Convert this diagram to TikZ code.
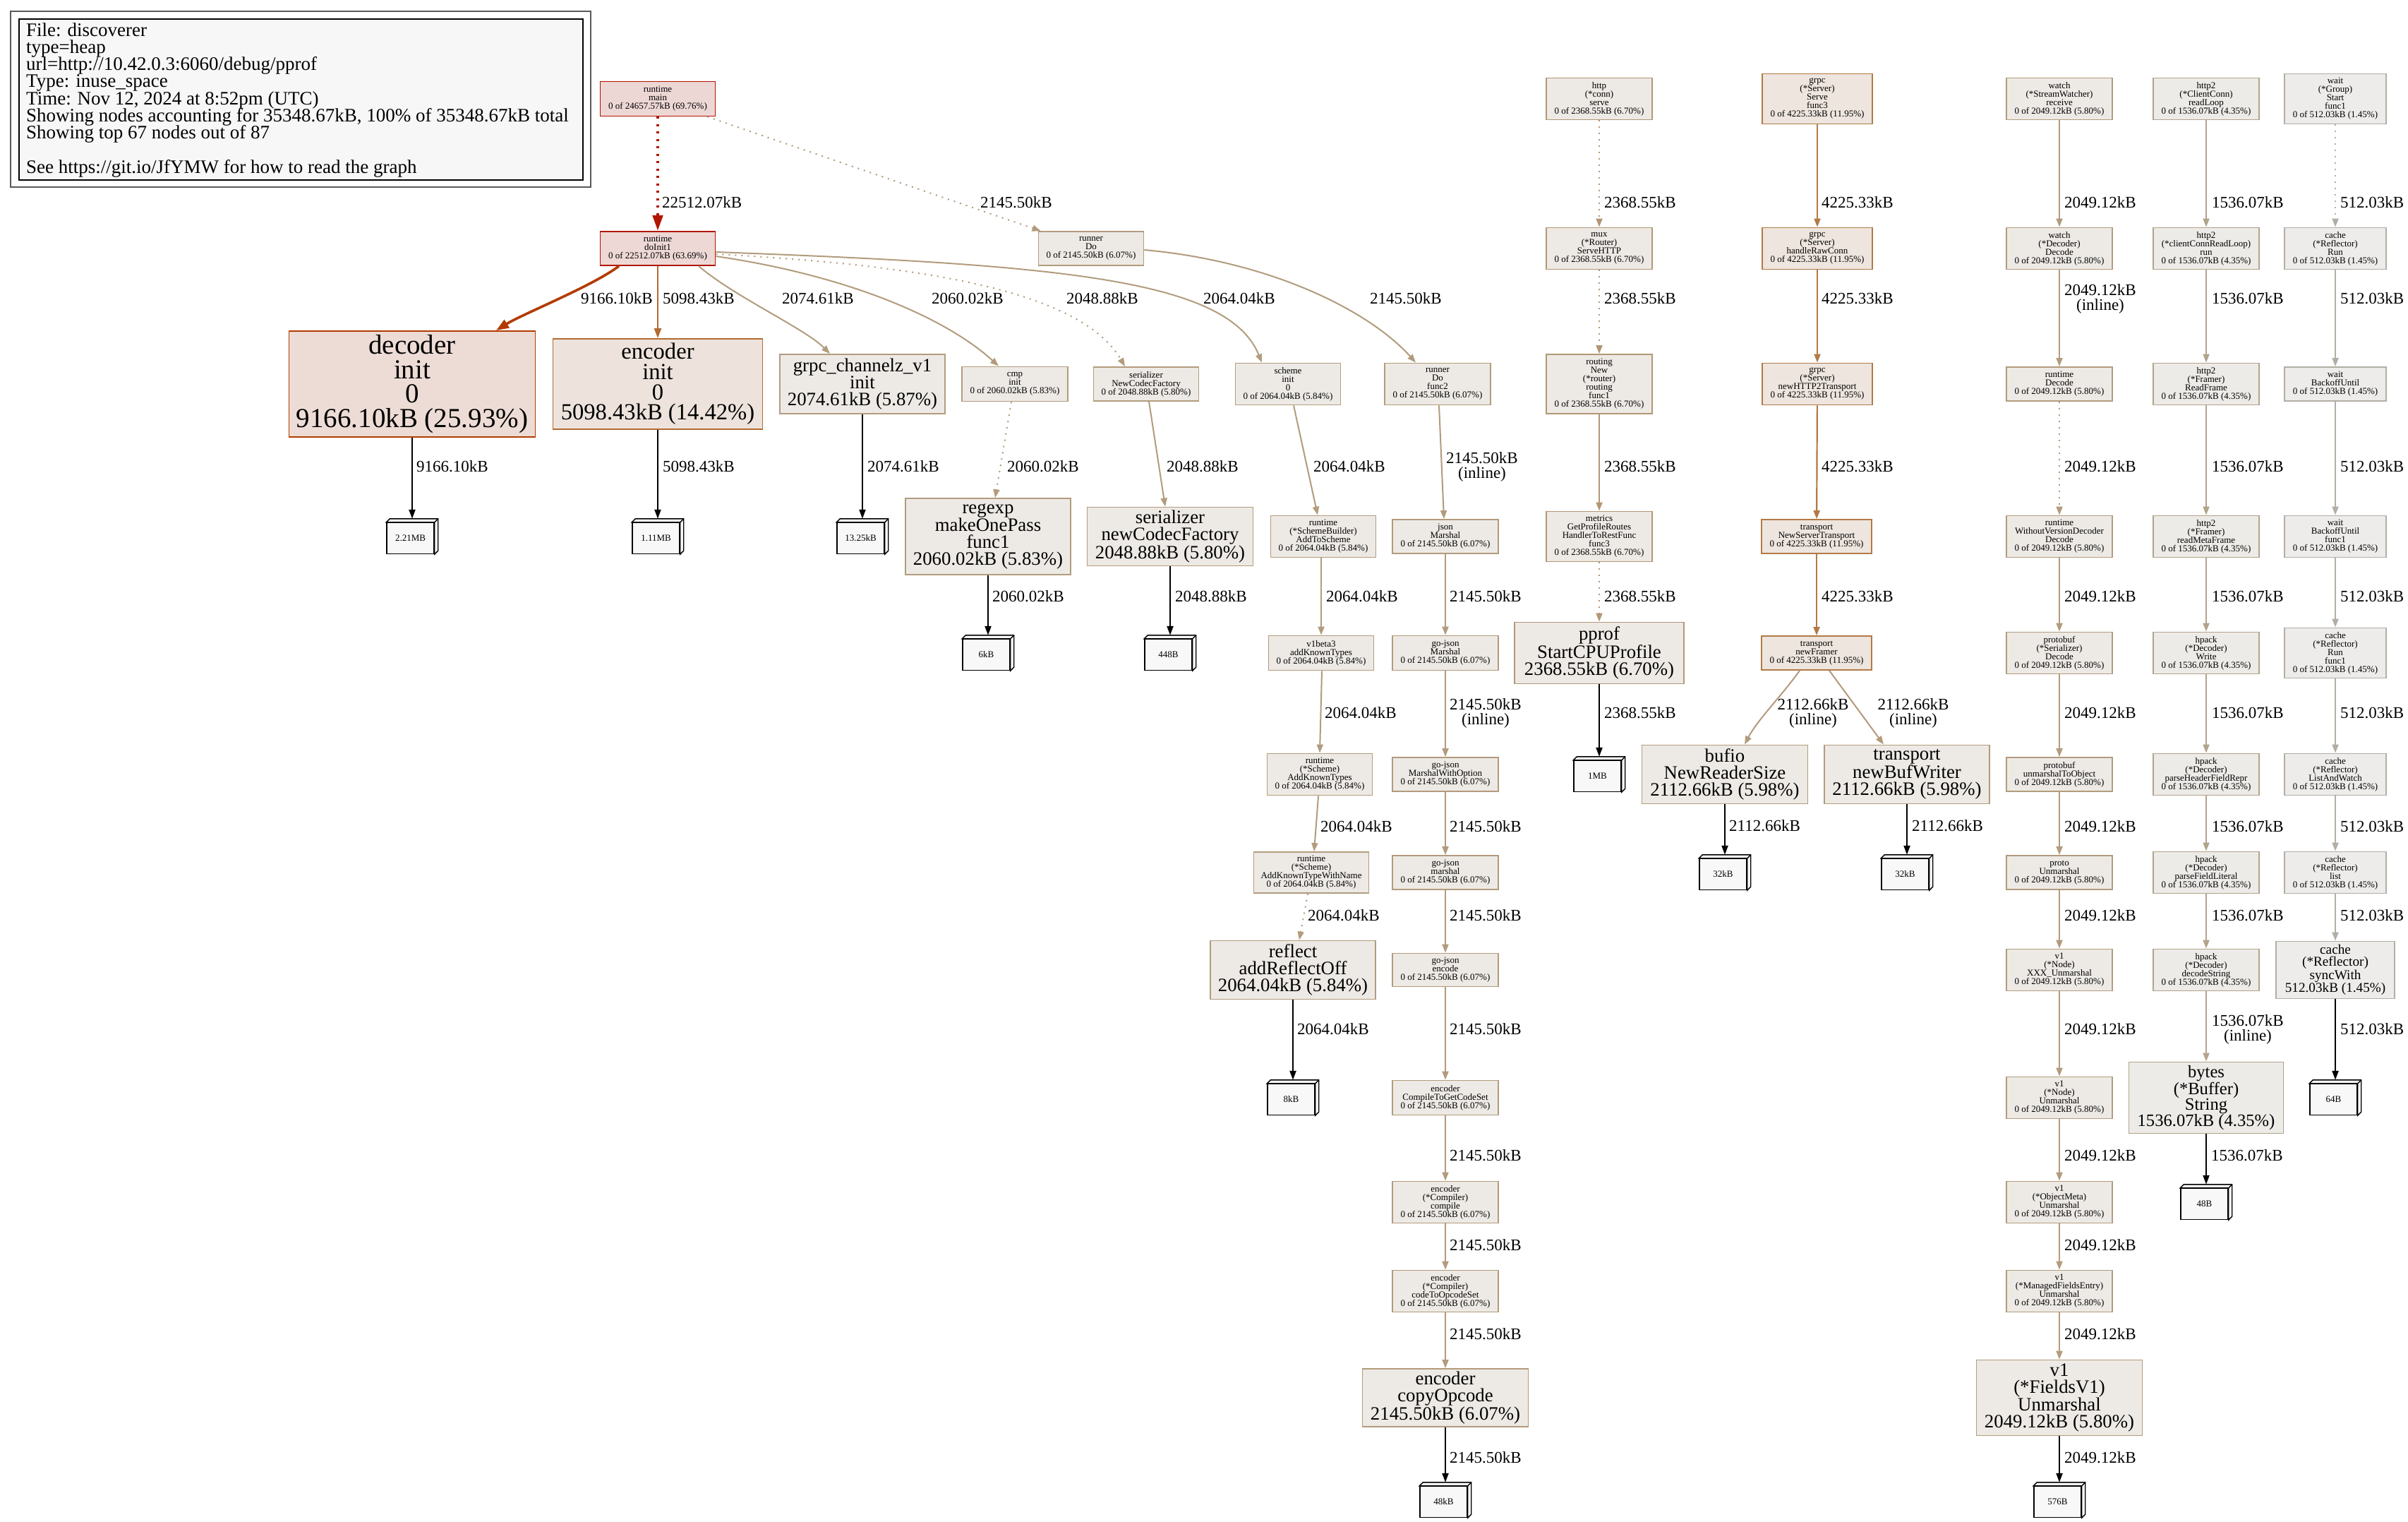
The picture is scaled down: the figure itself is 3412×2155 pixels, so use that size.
\documentclass[tikz,border=0pt]{standalone}
\usepackage{fontspec}
\setmainfont{Liberation Serif}
\usetikzlibrary{arrows.meta,calc}
\definecolor{cAf}{HTML}{B29C7D}\definecolor{cAb}{HTML}{EDEAE6}
\definecolor{cBf}{HTML}{B29B7C}\definecolor{cBb}{HTML}{EDEAE5}
\definecolor{cCf}{HTML}{B29776}\definecolor{cCb}{HTML}{EDE9E5}
\definecolor{cDf}{HTML}{B27A47}\definecolor{cDb}{HTML}{EDE5DE}
\definecolor{cEf}{HTML}{B2A38B}\definecolor{cEb}{HTML}{EDEBE8}
\definecolor{cFf}{HTML}{B2AEA5}\definecolor{cFb}{HTML}{EDECEB}
\definecolor{cMf}{HTML}{B21200}\definecolor{cMb}{HTML}{EDD7D5}
\definecolor{cIf}{HTML}{B21600}\definecolor{cIb}{HTML}{EDD8D5}
\definecolor{cDecf}{HTML}{B23B00}\definecolor{cDecb}{HTML}{EDDCD5}
\definecolor{cEncf}{HTML}{B26A31}\definecolor{cEncb}{HTML}{EDE3DC}
\definecolor{leafbg}{HTML}{F8F8F8}
\definecolor{legbg}{HTML}{F7F7F7}
\newcommand\ofW{0 of 2049.12kB (5.80\%)}
\newcommand\ofH{0 of 1536.07kB (4.35\%)}
\newcommand\ofK{0 of 512.03kB (1.45\%)}
\newcommand\ofJ{0 of 2145.50kB (6.07\%)}
\newcommand\ofG{0 of 4225.33kB (11.95\%)}
\newcommand\ofP{0 of 2368.55kB (6.70\%)}
\newcommand\ofS{0 of 2064.04kB (5.84\%)}
\newcommand\leafbox[4]{%
  \node[leaf] (#1) at (#2-2.5,#3+2.5) {#4};
  \filldraw[leafline] (#1.north west) -- ++(5,-5) -- ($(#1.north east)+(5,-5)$) -- ($(#1.south east)+(5,-5)$) -- (#1.south east) -- (#1.north east) -- cycle;
  \draw[leafline] (#1.north east) -- ++(5,-5);
}
\tikzset{
  gn/.style={draw, line width=1.8pt, inner sep=0pt, align=center},
  sm/.style={gn, font=\fontsize{13}{12}\selectfont},
  md/.style={gn, font=\fontsize{26.8}{24}\selectfont},
  sz/.style 2 args={minimum width=#1pt, minimum height=#2pt},
  kA/.style={draw=cAf, fill=cAb}, kB/.style={draw=cBf, fill=cBb},
  kC/.style={draw=cCf, fill=cCb}, kD/.style={draw=cDf, fill=cDb},
  kE/.style={draw=cEf, fill=cEb}, kF/.style={draw=cFf, fill=cFb},
  leaf/.style={draw=black, line width=1.4pt, fill=leafbg, minimum width=67pt, minimum height=44pt, inner sep=0pt, font=\fontsize{13}{12}\selectfont},
  leafline/.style={draw=black, line width=1.4pt, fill=leafbg, line join=miter},
  lbl/.style={anchor=west, inner sep=0pt, font=\fontsize{23}{21}\selectfont},
  lblc/.style={anchor=center, inner sep=0pt, align=center, font=\fontsize{23}{21}\selectfont},
  leg/.style={anchor=base west, inner sep=0pt, font=\fontsize{27}{24}\selectfont},
  ed/.style={line width=2pt, -{Triangle[length=12pt,width=9pt]}},
  eA/.style={ed, draw=cAf}, eB/.style={ed, draw=cBf}, eC/.style={ed, draw=cCf},
  eD/.style={ed, draw=cDf, line width=2.2pt}, eE/.style={ed, draw=cEf}, eF/.style={ed, draw=cFf},
  dotl/.style={dash pattern=on 2pt off 7pt},
  eleaf/.style={line width=2.2pt, draw=black, -{Triangle[length=13pt,width=9pt]}},
}
\begin{document}
\begin{tikzpicture}[x=1pt,y=-1pt]
\useasboundingbox[fill=white] (0,0) rectangle (3412,2155);
% legend
\draw[line width=1.5pt, draw=black!65] (15,16) rectangle (837,265);
\draw[line width=1.5pt, draw=black, fill=legbg] (27,27) rectangle (826,255);
\node[leg] (lg1) at (37,51) {File: discoverer};
\node[leg] (lg2) at (37,75.3) {type=heap};
\node[leg] (lg3) at (37,99.6) {url=http://10.42.0.3:6060/debug/pprof};
\node[leg] (lg4) at (37,123.9) {Type: inuse\_space};
\node[leg] (lg5) at (37,148.2) {Time: Nov 12, 2024 at 8:52pm (UTC)};
\node[leg] (lg6) at (37,172.5) {Showing nodes accounting for 35348.67kB, 100\% of 35348.67kB total};
\node[leg] (lg7) at (37,196.8) {Showing top 67 nodes out of 87};
\node[leg] (lg8) at (37,245.4) {See https://git.io/JfYMW for how to read the graph};

% ---- nodes: left part
\node[sm,draw=cMf,fill=cMb,sz={163}{49}] (main) at (932,140) {runtime\\main\\0 of 24657.57kB (69.76\%)};
\node[sm,draw=cIf,fill=cIb,sz={163}{48}] (doinit) at (932,352) {runtime\\doInit1\\0 of 22512.07kB (63.69\%)};
\node[gn,draw=cDecf,fill=cDecb,sz={349}{150},font=\fontsize{39}{34.5}\selectfont] (decoder) at (584,544) {decoder\\init\\0\\9166.10kB (25.93\%)};
\node[gn,draw=cEncf,fill=cEncb,sz={297}{128},font=\fontsize{32.6}{28.7}\selectfont] (encoder) at (932,544) {encoder\\init\\0\\5098.43kB (14.42\%)};
\node[md,kA,sz={234}{84}] (grpcz) at (1222,544) {grpc\_channelz\_v1\\init\\2074.61kB (5.87\%)};
\node[sm,kA,sz={150}{49}] (cmp) at (1438,544) {cmp\\init\\0 of 2060.02kB (5.83\%)};
\node[sm,kA,sz={149}{48}] (serNCF) at (1624,544) {serializer\\NewCodecFactory\\0 of 2048.88kB (5.80\%)};
\node[sm,kA,sz={149}{59}] (scheme) at (1825,544) {scheme\\init\\0\\\ofS};
\node[sm,kB,sz={150}{59}] (runnerf2) at (2037,544) {runner\\Do\\func2\\\ofJ};
\node[sm,kB,sz={149}{48}] (runnerDo) at (1546,352) {runner\\Do\\\ofJ};
\node[md,kA,sz={234}{108}] (regexp) at (1400,760) {regexp\\makeOnePass\\func1\\2060.02kB (5.83\%)};
\node[md,kA,sz={235}{83}] (newCF) at (1658,760) {serializer\\newCodecFactory\\2048.88kB (5.80\%)};
\node[sm,kA,sz={149}{59}] (addToScheme) at (1875,760) {runtime\\(*SchemeBuilder)\\AddToScheme\\\ofS};
\node[sm,kB,sz={150}{48}] (jsonM) at (2048,760) {json\\Marshal\\\ofJ};
\node[sm,kA,sz={149}{49}] (v1beta3) at (1872,925) {v1beta3\\addKnownTypes\\\ofS};
\node[sm,kB,sz={150}{49}] (gojsonM) at (2048,925) {go-json\\Marshal\\\ofJ};
\node[sm,kA,sz={149}{59}] (addKT) at (1870,1097) {runtime\\(*Scheme)\\AddKnownTypes\\\ofS};
\node[sm,kB,sz={150}{48}] (mwo) at (2048,1097) {go-json\\MarshalWithOption\\\ofJ};
\node[sm,kA,sz={163}{58}] (addKTWN) at (1858,1236) {runtime\\(*Scheme)\\AddKnownTypeWithName\\\ofS};
\node[sm,kB,sz={150}{48}] (gjmarshal) at (2048,1236) {go-json\\marshal\\\ofJ};
\node[md,kA,sz={234}{83}] (reflect) at (1832,1374) {reflect\\addReflectOff\\2064.04kB (5.84\%)};
\node[sm,kB,sz={150}{47}] (gjencode) at (2048,1374) {go-json\\encode\\\ofJ};
\node[sm,kB,sz={150}{49}] (cgcs) at (2048,1555) {encoder\\CompileToGetCodeSet\\\ofJ};
\node[sm,kB,sz={150}{59}] (compile) at (2048,1703) {encoder\\(*Compiler)\\compile\\\ofJ};
\node[sm,kB,sz={150}{59}] (c2o) at (2048,1829) {encoder\\(*Compiler)\\codeToOpcodeSet\\\ofJ};
\node[md,kB,sz={235}{82}] (copyOp) at (2048,1980) {encoder\\copyOpcode\\2145.50kB (6.07\%)};
% http column
\node[sm,kC,sz={150}{59}] (hserve) at (2266,140) {http\\(*conn)\\serve\\\ofP};
\node[sm,kC,sz={150}{59}] (mux) at (2266,352) {mux\\(*Router)\\ServeHTTP\\\ofP};
\node[sm,kC,sz={150}{84}] (routing) at (2266,544) {routing\\New\\(*router)\\routing\\func1\\\ofP};
\node[sm,kC,sz={150}{71}] (metrics) at (2266,760) {metrics\\GetProfileRoutes\\HandlerToRestFunc\\func3\\\ofP};
\node[md,kC,sz={240}{87}] (pprof) at (2266,925) {pprof\\StartCPUProfile\\2368.55kB (6.70\%)};
% grpc column
\node[sm,kD,sz={156}{71}] (gserve) at (2575,140) {grpc\\(*Server)\\Serve\\func3\\\ofG};
\node[sm,kD,sz={156}{59}] (graw) at (2575,352) {grpc\\(*Server)\\handleRawConn\\\ofG};
\node[sm,kD,sz={156}{59}] (gh2) at (2575,544) {grpc\\(*Server)\\newHTTP2Transport\\\ofG};
\node[sm,kD,sz={156}{48}] (nst) at (2574,760) {transport\\NewServerTransport\\\ofG};
\node[sm,kD,sz={156}{48}] (newFramer) at (2574,925) {transport\\newFramer\\\ofG};
\node[md,kB,sz={235}{83}] (bufio) at (2444,1097) {bufio\\NewReaderSize\\2112.66kB (5.98\%)};
\node[md,kB,sz={234}{83}] (bufw) at (2702,1097) {transport\\newBufWriter\\2112.66kB (5.98\%)};
% watch column
\node[sm,kA,sz={150}{59}] (wrecv) at (2918,140) {watch\\(*StreamWatcher)\\receive\\\ofW};
\node[sm,kA,sz={150}{59}] (wdec) at (2918,352) {watch\\(*Decoder)\\Decode\\\ofW};
\node[sm,kA,sz={150}{48}] (rdec) at (2918,544) {runtime\\Decode\\\ofW};
\node[sm,kA,sz={150}{59}] (wvd) at (2918,760) {runtime\\WithoutVersionDecoder\\Decode\\\ofW};
\node[sm,kA,sz={150}{59}] (pbser) at (2918,925) {protobuf\\(*Serializer)\\Decode\\\ofW};
\node[sm,kA,sz={150}{48}] (pbunm) at (2918,1097) {protobuf\\unmarshalToObject\\\ofW};
\node[sm,kA,sz={150}{48}] (protoU) at (2918,1236) {proto\\Unmarshal\\\ofW};
\node[sm,kA,sz={150}{59}] (xxx) at (2918,1374) {v1\\(*Node)\\XXX\_Unmarshal\\\ofW};
\node[sm,kA,sz={150}{59}] (nodeU) at (2918,1555) {v1\\(*Node)\\Unmarshal\\\ofW};
\node[sm,kA,sz={150}{59}] (omU) at (2918,1703) {v1\\(*ObjectMeta)\\Unmarshal\\\ofW};
\node[sm,kA,sz={150}{59}] (mfeU) at (2918,1829) {v1\\(*ManagedFieldsEntry)\\Unmarshal\\\ofW};
\node[md,kA,sz={235}{107}] (fv1) at (2918,1980) {v1\\(*FieldsV1)\\Unmarshal\\2049.12kB (5.80\%)};
% http2 column
\node[sm,kE,sz={150}{59}] (h2rl) at (3126,140) {http2\\(*ClientConn)\\readLoop\\\ofH};
\node[sm,kE,sz={150}{59}] (h2run) at (3126,352) {http2\\(*clientConnReadLoop)\\run\\\ofH};
\node[sm,kE,sz={150}{59}] (h2rf) at (3126,544) {http2\\(*Framer)\\ReadFrame\\\ofH};
\node[sm,kE,sz={150}{59}] (h2rmf) at (3126,760) {http2\\(*Framer)\\readMetaFrame\\\ofH};
\node[sm,kE,sz={150}{59}] (hpw) at (3126,925) {hpack\\(*Decoder)\\Write\\\ofH};
\node[sm,kE,sz={150}{59}] (hphfr) at (3126,1097) {hpack\\(*Decoder)\\parseHeaderFieldRepr\\\ofH};
\node[sm,kE,sz={150}{59}] (hpfl) at (3126,1236) {hpack\\(*Decoder)\\parseFieldLiteral\\\ofH};
\node[sm,kE,sz={150}{59}] (hpds) at (3126,1374) {hpack\\(*Decoder)\\decodeString\\\ofH};
\node[gn,kE,sz={219}{101},font=\fontsize{24.6}{22.5}\selectfont] (bytes) at (3126,1555) {bytes\\(*Buffer)\\String\\1536.07kB (4.35\%)};
% wait column
\node[sm,kF,sz={144}{71}] (wgs) at (3309,140) {wait\\(*Group)\\Start\\func1\\\ofK};
\node[sm,kF,sz={144}{59}] (crun) at (3309,352) {cache\\(*Reflector)\\Run\\\ofK};
\node[sm,kF,sz={144}{48}] (wbu) at (3309,544) {wait\\BackoffUntil\\\ofK};
\node[sm,kF,sz={144}{59}] (wbuf) at (3309,760) {wait\\BackoffUntil\\func1\\\ofK};
\node[sm,kF,sz={144}{71}] (crunf) at (3309,925) {cache\\(*Reflector)\\Run\\func1\\\ofK};
\node[sm,kF,sz={144}{59}] (clw) at (3309,1097) {cache\\(*Reflector)\\ListAndWatch\\\ofK};
\node[sm,kF,sz={144}{59}] (clist) at (3309,1236) {cache\\(*Reflector)\\list\\\ofK};
\node[gn,kF,sz={168}{81},font=\fontsize{19.2}{17.3}\selectfont] (csync) at (3309,1374) {cache\\(*Reflector)\\syncWith\\512.03kB (1.45\%)};
% leaves
\leafbox{L1}{584}{760}{2.21MB}
\leafbox{L2}{932}{760}{1.11MB}
\leafbox{L3}{1222}{760}{13.25kB}
\leafbox{L6}{1400}{925}{6kB}
\leafbox{L448}{1658}{925}{448B}
\leafbox{L1MB}{2266}{1097}{1MB}
\leafbox{L32a}{2444}{1236}{32kB}
\leafbox{L32b}{2702}{1236}{32kB}
\leafbox{L8}{1832}{1555}{8kB}
\leafbox{L48k}{2048}{2125}{48kB}
\leafbox{L576}{2918}{2125}{576B}
\leafbox{L48B}{3126}{1703}{48B}
\leafbox{L64}{3309}{1555}{64B}

% ---- edges
\draw[draw=cIf, line width=4.5pt, dash pattern=on 3pt off 7.5pt, -{Triangle[length=22pt,width=14pt]}] (main) -- (doinit);
\node[lbl] (t1) at (938,287) {22512.07kB};
\draw[eB,dotl] ([xshift=-12pt]main.south east) -- ([xshift=4pt]runnerDo.north west);
\node[lbl] (t2) at (1389,287) {2145.50kB};
\draw[draw=cDecf, line width=3.6pt, -{Triangle[length=18pt,width=13pt]}] ([xshift=-55pt]doinit.south) .. controls (840,405) and (740,445) .. ([xshift=119pt]decoder.north);
\node[lbl] (t3) at (823,423) {9166.10kB};
\draw[draw=cEncf, line width=2.5pt, -{Triangle[length=14pt,width=10pt]}] (doinit) -- (encoder);
\node[lbl] (t4) at (939,423) {5098.43kB};
\draw[eA] ([xshift=58pt]doinit.south) .. controls (1040,420) and (1140,465) .. ([xshift=-46pt]grpcz.north);
\node[lbl] (t5) at (1108,423) {2074.61kB};
\draw[eA] ([yshift=-11pt]doinit.east) .. controls (1200,390) and (1340,450) .. ([xshift=-23pt]cmp.north);
\node[lbl] (t6) at (1320,423) {2060.02kB};
\draw[eA,dotl] ([yshift=-8pt]doinit.east) .. controls (1300,375) and (1530,410) .. ([xshift=-30pt]serNCF.north);
\node[lbl] (t7) at (1511,423) {2048.88kB};
\draw[eA] ([yshift=-5pt]doinit.east) .. controls (1500,375) and (1740,395) .. ([xshift=-37pt]scheme.north);
\node[lbl] (t8) at (1705,423) {2064.04kB};
\draw[eB] ([yshift=-2pt]runnerDo.east) .. controls (1800,370) and (1940,440) .. ([xshift=-31pt]runnerf2.north);
\node[lbl] (t9) at (1941,423) {2145.50kB};

\draw[eleaf] (decoder) -- ([shift={(2.5,-5)}]L1.north);
\node[lbl] (t10) at (590,661) {9166.10kB};
\draw[eleaf] (encoder) -- ([shift={(2.5,-5)}]L2.north);
\node[lbl] (t11) at (939,661) {5098.43kB};
\draw[eleaf] (grpcz) -- ([shift={(2.5,-5)}]L3.north);
\node[lbl] (t12) at (1229,661) {2074.61kB};
\draw[eA,dotl] ([xshift=-5pt]cmp.south) -- ([xshift=10pt]regexp.north);
\node[lbl] (t13) at (1427,661) {2060.02kB};
\draw[eA] ([xshift=4pt]serNCF.south) -- ([xshift=-7pt]newCF.north);
\node[lbl] (t14) at (1653,661) {2048.88kB};
\draw[eA] ([xshift=8pt]scheme.south) -- ([xshift=-8pt]addToScheme.north);
\node[lbl] (t15) at (1861,661) {2064.04kB};
\draw[eB] ([xshift=2pt]runnerf2.south) -- ([xshift=-2pt]jsonM.north);
\node[lblc] (t16) at (2100,661) {2145.50kB\\(inline)};

\draw[eleaf] (regexp) -- ([shift={(2.5,-5)}]L6.north);
\node[lbl] (t17) at (1406,845) {2060.02kB};
\draw[eleaf] (newCF) -- ([shift={(2.5,-5)}]L448.north);
\node[lbl] (t18) at (1665,845) {2048.88kB};
\draw[eA] ([xshift=-3pt]addToScheme.south) -- (v1beta3.north);
\node[lbl] (t19) at (1879,845) {2064.04kB};
\draw[eA] ([xshift=1pt]v1beta3.south) -- (addKT.north);
\node[lbl] (t20) at (1877,1010) {2064.04kB};
\draw[eA] ([xshift=-2pt]addKT.south) -- ([xshift=4pt]addKTWN.north);
\node[lbl] (t21) at (1871,1171) {2064.04kB};
\draw[eA,dotl] ([xshift=-5pt]addKTWN.south) -- ([xshift=9pt]reflect.north);
\node[lbl] (t22) at (1853,1297) {2064.04kB};
\draw[eleaf] (reflect) -- ([shift={(2.5,-5)}]L8.north);
\node[lbl] (t23) at (1838,1458) {2064.04kB};

% json chain
\draw[eB] (jsonM) -- (gojsonM);
\node[lbl] (t24) at (2054,845) {2145.50kB};
\draw[eB] (gojsonM) -- (mwo);
\node[lblc] (t25) at (2105,1010) {2145.50kB\\(inline)};
\draw[eB] (mwo) -- (gjmarshal);
\node[lbl] (t26) at (2054,1171) {2145.50kB};
\draw[eB] (gjmarshal) -- (gjencode);
\node[lbl] (t27) at (2054,1297) {2145.50kB};
\draw[eB] (gjencode) -- (cgcs);
\node[lbl] (t28) at (2054,1458) {2145.50kB};
\draw[eB] (cgcs) -- (compile);
\node[lbl] (t29) at (2054,1637) {2145.50kB};
\draw[eB] (compile) -- (c2o);
\node[lbl] (t30) at (2054,1764) {2145.50kB};
\draw[eB] (c2o) -- (copyOp);
\node[lbl] (t31) at (2054,1890) {2145.50kB};
\draw[eleaf] (copyOp) -- ([shift={(2.5,-5)}]L48k.north);
\node[lbl] (t32) at (2054,2065) {2145.50kB};

% http chain
\draw[eC,dotl] (hserve) -- (mux);
\node[lbl] (t33) at (2273,287) {2368.55kB};
\draw[eC,dotl] (mux) -- (routing);
\node[lbl] (t34) at (2273,423) {2368.55kB};
\draw[eC] (routing) -- (metrics);
\node[lbl] (t35) at (2273,661) {2368.55kB};
\draw[eC,dotl] (metrics) -- (pprof);
\node[lbl] (t36) at (2273,845) {2368.55kB};
\draw[eleaf] (pprof) -- ([shift={(2.5,-5)}]L1MB.north);
\node[lbl] (t37) at (2273,1010) {2368.55kB};

% grpc chain
\draw[eD] (gserve) -- (graw);
\node[lbl] (t38) at (2581,287) {4225.33kB};
\draw[eD] (graw) -- (gh2);
\node[lbl] (t39) at (2581,423) {4225.33kB};
\draw[eD] (gh2) -- (nst);
\node[lbl] (t40) at (2581,661) {4225.33kB};
\draw[eD] (nst) -- (newFramer);
\node[lbl] (t41) at (2581,845) {4225.33kB};
\draw[eB] ([xshift=-24pt]newFramer.south) .. controls (2525,985) and (2490,1020) .. ([xshift=28pt]bufio.north);
\node[lblc] (t42) at (2569,1010) {2112.66kB\\(inline)};
\draw[eB] ([xshift=18pt]newFramer.south) -- ([xshift=-33pt]bufw.north);
\node[lblc] (t43) at (2711,1010) {2112.66kB\\(inline)};
\draw[eleaf] (bufio) -- ([shift={(2.5,-5)}]L32a.north);
\node[lbl] (t44) at (2450,1170) {2112.66kB};
\draw[eleaf] (bufw) -- ([shift={(2.5,-5)}]L32b.north);
\node[lbl] (t45) at (2709,1170) {2112.66kB};

% watch chain
\draw[eA] (wrecv) -- (wdec);
\node[lbl] (t46) at (2925,287) {2049.12kB};
\draw[eA] (wdec) -- (rdec);
\node[lblc] (t47) at (2976,423) {2049.12kB\\(inline)};
\draw[eA,dotl] (rdec) -- (wvd);
\node[lbl] (t48) at (2925,661) {2049.12kB};
\draw[eA] (wvd) -- (pbser);
\node[lbl] (t49) at (2925,845) {2049.12kB};
\draw[eA] (pbser) -- (pbunm);
\node[lbl] (t50) at (2925,1010) {2049.12kB};
\draw[eA] (pbunm) -- (protoU);
\node[lbl] (t51) at (2925,1171) {2049.12kB};
\draw[eA] (protoU) -- (xxx);
\node[lbl] (t52) at (2925,1297) {2049.12kB};
\draw[eA] (xxx) -- (nodeU);
\node[lbl] (t53) at (2925,1458) {2049.12kB};
\draw[eA] (nodeU) -- (omU);
\node[lbl] (t54) at (2925,1637) {2049.12kB};
\draw[eA] (omU) -- (mfeU);
\node[lbl] (t55) at (2925,1764) {2049.12kB};
\draw[eA] (mfeU) -- (fv1);
\node[lbl] (t56) at (2925,1890) {2049.12kB};
\draw[eleaf] (fv1) -- ([shift={(2.5,-5)}]L576.north);
\node[lbl] (t57) at (2925,2065) {2049.12kB};

% http2 chain
\draw[eE] (h2rl) -- (h2run);
\node[lbl] (t58) at (3134,287) {1536.07kB};
\draw[eE] (h2run) -- (h2rf);
\node[lbl] (t59) at (3134,423) {1536.07kB};
\draw[eE] (h2rf) -- (h2rmf);
\node[lbl] (t60) at (3134,661) {1536.07kB};
\draw[eE] (h2rmf) -- (hpw);
\node[lbl] (t61) at (3134,845) {1536.07kB};
\draw[eE] (hpw) -- (hphfr);
\node[lbl] (t62) at (3134,1010) {1536.07kB};
\draw[eE] (hphfr) -- (hpfl);
\node[lbl] (t63) at (3134,1171) {1536.07kB};
\draw[eE] (hpfl) -- (hpds);
\node[lbl] (t64) at (3134,1297) {1536.07kB};
\draw[eE] (hpds) -- (bytes);
\node[lblc] (t65) at (3185,1458) {1536.07kB\\(inline)};
\draw[eleaf] (bytes) -- ([shift={(2.5,-5)}]L48B.north);
\node[lbl] (t66) at (3133,1637) {1536.07kB};

% wait chain
\draw[eF,dotl] (wgs) -- (crun);
\node[lbl] (t67) at (3316,287) {512.03kB};
\draw[eF] (crun) -- (wbu);
\node[lbl] (t68) at (3316,423) {512.03kB};
\draw[eF] (wbu) -- (wbuf);
\node[lbl] (t69) at (3316,661) {512.03kB};
\draw[eF] (wbuf) -- (crunf);
\node[lbl] (t70) at (3316,845) {512.03kB};
\draw[eF] (crunf) -- (clw);
\node[lbl] (t71) at (3316,1010) {512.03kB};
\draw[eF] (clw) -- (clist);
\node[lbl] (t72) at (3316,1171) {512.03kB};
\draw[eF] (clist) -- (csync);
\node[lbl] (t73) at (3316,1297) {512.03kB};
\draw[eleaf] (csync) -- ([shift={(2.5,-5)}]L64.north);
\node[lbl] (t74) at (3316,1458) {512.03kB};
\end{tikzpicture}
\end{document}
